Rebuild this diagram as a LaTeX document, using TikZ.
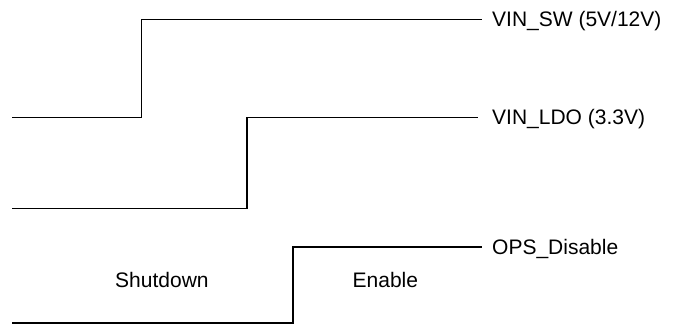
\documentclass[tikz,border=0pt]{standalone}
\usepackage{fontspec}
\setmainfont{Liberation Sans}
\begin{document}
\begin{tikzpicture}[x=1pt,y=-1pt,
  sig/.style={line width=1.6pt,line join=miter,black},
  lbl/.style={anchor=base west,inner sep=0pt,font=\fontsize{21}{25}\selectfont},
  state/.style={anchor=base west,inner sep=0pt,font=\fontsize{21}{25}\selectfont}]
\useasboundingbox (0,0) rectangle (680,325);
% labels
\node[lbl] (sw)  at (492,19.3+7.5)  {VIN\_SW (5V/12V)};
\node[lbl] (ldo) at (492,117.3+7.5) {VIN\_LDO (3.3V)};
\node[lbl] (ops) at (492,246.7+7.5) {OPS\_Disable};
\node[state] (shut) at (115,287) {Shutdown};
\node[state] (en)   at (352.5,287) {Enable};
% start points and step corners
\coordinate (a0) at (12,117.3);
\coordinate (a1) at (141.3,117.3);
\coordinate (a2) at (141.3,19.3);
\coordinate (a3) at (481.7,19.3);
\coordinate (b0) at (12,208.3);
\coordinate (b1) at (246.7,208.3);
\coordinate (b2) at (246.7,117.3);
\coordinate (b3) at (478.3,117.3);
\coordinate (c0) at (12,322.7);
\coordinate (c1) at (292.7,322.7);
\coordinate (c2) at (292.7,246.7);
\coordinate (c3) at (481.7,246.7);
\draw[sig] (a0) -- (a1) -- (a2) -- (a3);
\draw[sig] (b0) -- (b1) -- (b2) -- (b3);
\draw[sig] (c0) -- (c1) -- (c2) -- (c3);
\end{tikzpicture}
\end{document}
